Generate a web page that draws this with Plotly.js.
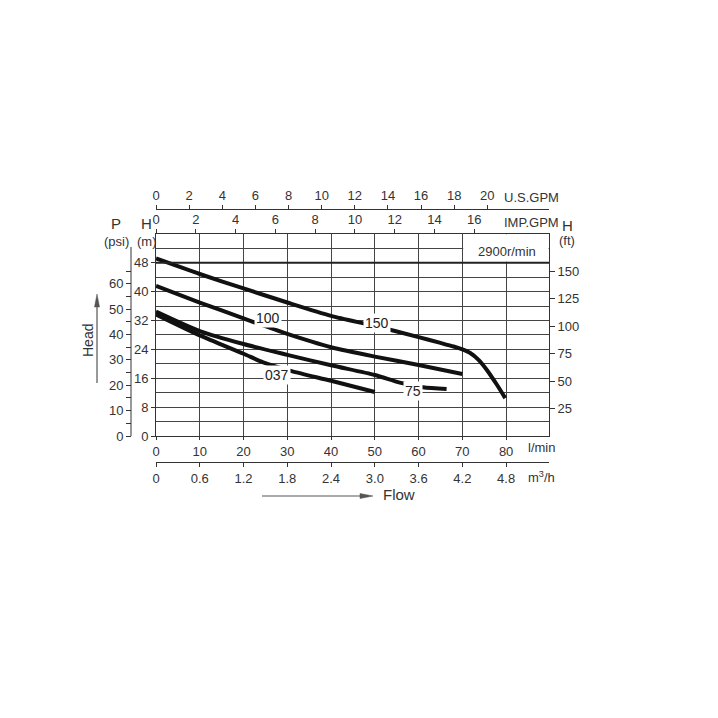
<!DOCTYPE html>
<html>
<head>
<meta charset="utf-8">
<script src="https://cdn.plot.ly/plotly-3.0.1.min.js"></script>
<style>html,body{margin:0;padding:0;background:#fff;}</style>
</head>
<body>
<div id="chart" style="width:718px;height:718px;"></div>
<script>
// Flow in l/min, head in m
const curve150Flow = [0, 10, 20, 30, 40, 50, 60, 65, 68, 70, 71.8, 73.7, 75.6, 77.9, 79.8];
const curve150Head = [49.2, 44.9, 40.9, 37.0, 33.3, 30.5, 27.4, 25.8, 24.8, 24.0, 23.0, 21.1, 18.3, 14.2, 10.5];
const curve100Flow = [0, 10, 20, 30, 40, 50, 60, 70];
const curve100Head = [41.6, 37.0, 32.6, 28.3, 24.6, 22.0, 19.7, 17.2];
const curve75Flow = [0, 10, 20, 30, 40, 50, 55.7, 61, 66.4];
const curve75Head = [34.5, 29.1, 25.5, 22.5, 19.6, 16.9, 14.8, 13.5, 13.0];
const curve037Flow = [0, 10, 20, 24.5, 31, 40, 50];
const curve037Head = [33.7, 27.9, 22.8, 20.4, 18.0, 15.3, 12.2];

const curveNames = ['150', '100', '75', '037'];
const labelFlow = [50.5, 25.5, 58.7, 27.7];
const labelHead = [31.3, 32.7, 12.5, 16.9];

const lminTicks = [0, 10, 20, 30, 40, 50, 60, 70, 80];
const m3hTicks = [0, 0.6, 1.2, 1.8, 2.4, 3.0, 3.6, 4.2, 4.8];
const m3hText = ['0', '0.6', '1.2', '1.8', '2.4', '3.0', '3.6', '4.2', '4.8'];
const impTicks = [0, 2, 4, 6, 8, 10, 12, 14, 16];
const usTicks = [0, 2, 4, 6, 8, 10, 12, 14, 16, 18, 20];
const ftTicks = [25, 50, 75, 100, 125, 150];
const psiTicks = [0, 10, 20, 30, 40, 50, 60];
const psiMinor = [5, 15, 25, 35, 45, 55, 65];

const XMAX = 89.8, YMAX = 55.99;
const FONT = 'Liberation Sans, Arial, sans-serif';
const TXT = '#333';
const LINE = '#333';
const GRID = '#444';

function curve(x, y) {
  return {x: x, y: y, type: 'scatter', mode: 'lines',
    line: {color: '#111', width: 4, shape: 'spline', smoothing: 0.7},
    hoverinfo: 'skip', xaxis: 'x', yaxis: 'y'};
}
function axisHolder(xa, ya) {
  return {x: [], y: [], type: 'scatter', mode: 'lines', hoverinfo: 'skip', xaxis: xa, yaxis: ya};
}
const data = [
  curve(curve150Flow, curve150Head),
  curve(curve100Flow, curve100Head),
  curve(curve75Flow, curve75Head),
  curve(curve037Flow, curve037Head),
  axisHolder('x2', 'y'),
  axisHolder('x3', 'y'),
  axisHolder('x4', 'y'),
  axisHolder('x', 'y2'),
  axisHolder('x', 'y3')
];

const tf = {family: FONT, size: 13, color: TXT};
const common = {showline: true, linecolor: LINE, linewidth: 1, zeroline: false,
  tickcolor: LINE, tickwidth: 1, tickfont: tf, fixedrange: true};

const px = v => (v - 60) / 598;
const py = v => (518 - v) / 368;

const ann = [];
function txt(t, x, y, size, xanchor, extra) {
  ann.push(Object.assign({text: t, x: x, y: y, xref: 'paper', yref: 'paper', showarrow: false,
    xanchor: xanchor || 'center', yanchor: 'middle',
    font: {family: FONT, size: size, color: TXT}}, extra || {}));
}
txt('P', px(116), py(223), 15);
txt('(psi)', px(116), py(241), 13);
txt('H', px(146), py(223), 15);
txt('(m)', px(147), py(241), 13);
txt('H', px(567), py(225), 15);
txt('(ft)', px(567), py(240), 13);
txt('U.S.GPM', px(502), py(197), 13, 'left');
txt('IMP.GPM', px(502), py(222), 13, 'left');
txt('2900r/min', px(507), py(251), 13);
txt('l/min', px(526), py(447), 13, 'left');
txt('m<sup>3</sup>/h', px(526), py(477), 13, 'left');
txt('Flow', px(381), py(494), 15, 'left');
txt('Head', px(88), py(341), 14, 'center', {textangle: -90});
for (let i = 0; i < curveNames.length; i++) {
  ann.push({text: curveNames[i], x: labelFlow[i], y: labelHead[i], xref: 'x', yref: 'y',
    showarrow: false, bgcolor: '#fff', borderpad: 1,
    font: {family: FONT, size: 14, color: '#222'}});
}

const ARROW = '#555';
const shapes = [
  {type: 'rect', xref: 'x', yref: 'y', x0: 70.2, x1: XMAX - 0.1, y0: 48.3, y1: YMAX - 0.1,
    fillcolor: '#fff', line: {width: 0}, layer: 'between'},
  {type: 'line', xref: 'x', yref: 'y', x0: 0, x1: XMAX, y0: 48, y1: 48,
    line: {color: '#222', width: 2}},
  {type: 'line', xref: 'paper', yref: 'y', x0: px(131), x1: px(131), y0: 0, y1: 52.4,
    line: {color: LINE, width: 1}},
  // Flow arrow
  {type: 'line', xref: 'paper', yref: 'paper', x0: px(262), x1: px(364), y0: py(496), y1: py(496),
    line: {color: ARROW, width: 1.2}},
  {type: 'path', xref: 'paper', yref: 'paper',
    path: 'M ' + px(373) + ' ' + py(496) + ' L ' + px(360) + ' ' + py(493.5) + ' L ' + px(360) + ' ' + py(498.5) + ' Z',
    fillcolor: ARROW, line: {color: ARROW, width: 0.5}},
  // Head arrow
  {type: 'line', xref: 'paper', yref: 'paper', x0: px(97), x1: px(97), y0: py(383), y1: py(304),
    line: {color: ARROW, width: 1.2}},
  {type: 'path', xref: 'paper', yref: 'paper',
    path: 'M ' + px(97) + ' ' + py(294) + ' L ' + px(94.5) + ' ' + py(307) + ' L ' + px(99.5) + ' ' + py(307) + ' Z',
    fillcolor: ARROW, line: {color: ARROW, width: 0.5}}
];

const layout = {
  width: 718, height: 718,
  margin: {l: 60, r: 60, t: 150, b: 200},
  paper_bgcolor: '#fff', plot_bgcolor: '#fff',
  showlegend: false,
  font: {family: FONT, color: TXT},
  xaxis: Object.assign({}, common, {
    domain: [px(156), px(549)], range: [0, XMAX], anchor: 'y',
    tickmode: 'array', tickvals: lminTicks, ticks: 'outside', ticklen: 3,
    showgrid: true, gridcolor: GRID, gridwidth: 1
  }),
  yaxis: Object.assign({}, common, {
    domain: [py(436), py(234)], range: [0, YMAX], anchor: 'x',
    tickmode: 'linear', tick0: 0, dtick: 8, ticks: 'outside', ticklen: 4,
    showgrid: true, gridcolor: GRID, gridwidth: 1,
    minor: {tickmode: 'linear', tick0: 0, dtick: 4, showgrid: true, gridcolor: GRID, gridwidth: 1, ticks: ''}
  }),
  xaxis2: Object.assign({}, common, {
    overlaying: 'x', side: 'top', anchor: 'y', range: [0, XMAX / 4.54609],
    tickmode: 'array', tickvals: impTicks, ticks: 'outside', ticklen: 4, showgrid: false
  }),
  xaxis3: Object.assign({}, common, {
    overlaying: 'x', side: 'top', anchor: 'free', position: py(209), range: [0, XMAX / 3.78541],
    tickmode: 'array', tickvals: usTicks, ticks: 'outside', ticklen: 4, showgrid: false
  }),
  xaxis4: Object.assign({}, common, {
    overlaying: 'x', side: 'bottom', anchor: 'free', position: py(462), range: [0, XMAX * 0.06],
    tickmode: 'array', tickvals: m3hTicks, ticktext: m3hText, ticks: 'outside', ticklen: 4, showgrid: false
  }),
  yaxis2: Object.assign({}, common, {
    overlaying: 'y', side: 'right', anchor: 'x', range: [0, YMAX * 3.28084],
    tickmode: 'array', tickvals: ftTicks, ticks: 'outside', ticklen: 5, showgrid: false
  }),
  yaxis3: Object.assign({}, common, {
    overlaying: 'y', side: 'left', anchor: 'free', position: px(131), range: [0, YMAX * 1.42233],
    showline: false,
    tickmode: 'array', tickvals: psiTicks, ticks: 'outside', ticklen: 5, showgrid: false,
    minor: {tickmode: 'array', tickvals: psiMinor, ticks: 'outside', ticklen: 5, tickcolor: LINE, showgrid: false}
  }),
  shapes: shapes,
  annotations: ann
};

Plotly.newPlot('chart', data, layout, {displayModeBar: false, staticPlot: true});
</script>
</body>
</html>
